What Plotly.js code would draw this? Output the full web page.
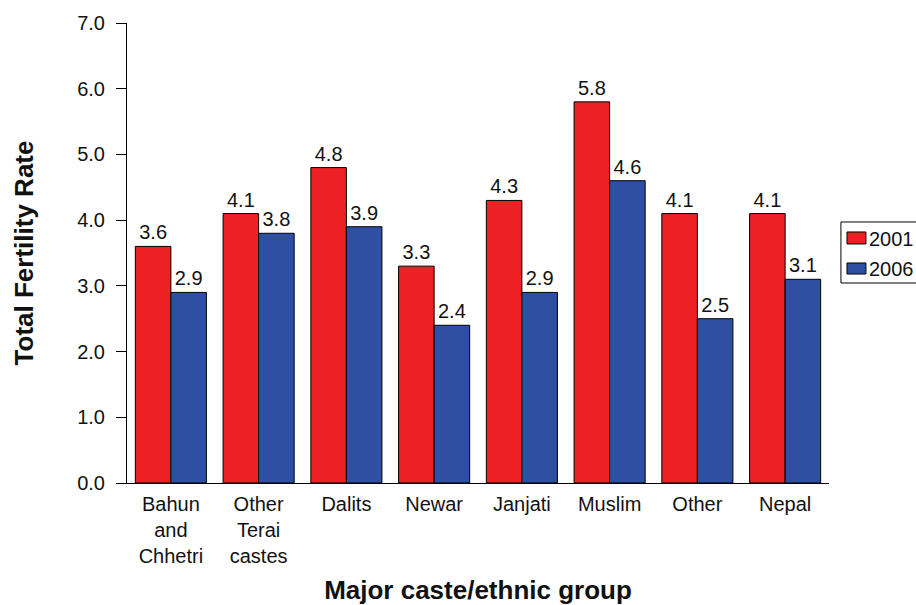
<!DOCTYPE html>
<html>
<head>
<meta charset="utf-8">
<script src="https://cdn.plot.ly/plotly-3.0.1.min.js"></script>
<style>
  html, body { margin: 0; padding: 0; background: #ffffff; }
  #chart { width: 916px; height: 605px; }
</style>
</head>
<body>
<div id="chart"></div>
<script>
// Total fertility rate by caste/ethnic group, Nepal 2001 vs 2006
const groups = [
  "Bahun<br>and<br>Chhetri",
  "Other<br>Terai<br>castes",
  "Dalits",
  "Newar",
  "Janjati",
  "Muslim",
  "Other",
  "Nepal"
];
const seriesNames = ["2001", "2006"];
const tfr2001 = [3.6, 4.1, 4.8, 3.3, 4.3, 5.8, 4.1, 4.1];
const tfr2006 = [2.9, 3.8, 3.9, 2.4, 2.9, 4.6, 2.5, 3.1];
const yTicks = [0, 1, 2, 3, 4, 5, 6, 7];

const FONT = "Liberation Sans, Arial, Helvetica, sans-serif";
const COLORS = ["#ED2124", "#2F4FA2"];

function barTrace(name, values, color) {
  return {
    type: "bar",
    name: name,
    x: groups,
    y: values,
    marker: { color: color, line: { color: "#000000", width: 1 } },
    text: values.map(v => v.toFixed(1)),
    textposition: "outside",
    textfont: { family: FONT, size: 20, color: "#111111" },
    cliponaxis: false,
    hoverinfo: "skip",
    showlegend: false
  };
}

const data = [
  barTrace(seriesNames[0], tfr2001, COLORS[0]),
  barTrace(seriesNames[1], tfr2006, COLORS[1])
];

// Legend box drawn at the right edge of the figure (paper coordinates)
const legendShapes = [
  { type: "rect", xref: "paper", yref: "paper",
    x0: 1.017, x1: 1.14, y0: 0.4348, y1: 0.5674,
    line: { color: "#000000", width: 1 }, fillcolor: "rgba(0,0,0,0)" }
];
const swatchY = [[0.5196, 0.5457], [0.4543, 0.4783]];
const labelY = [0.5304, 0.4652];
const legendNotes = [];
seriesNames.forEach((name, i) => {
  legendShapes.push({
    type: "rect", xref: "paper", yref: "paper",
    x0: 1.0256, x1: 1.0526, y0: swatchY[i][0], y1: swatchY[i][1],
    line: { color: "#000000", width: 1 }, fillcolor: COLORS[i]
  });
  legendNotes.push({
    xref: "paper", yref: "paper",
    x: 1.0540, y: labelY[i],
    xanchor: "left", yanchor: "middle",
    text: name, showarrow: false,
    font: { family: FONT, size: 20, color: "#111111" }
  });
});

const layout = {
  width: 916,
  height: 605,
  margin: { l: 127, r: 87, t: 23, b: 122, autoexpand: false },
  paper_bgcolor: "#ffffff",
  plot_bgcolor: "#ffffff",
  font: { family: FONT, size: 20, color: "#111111" },
  barmode: "group",
  bargap: 0.19,
  bargroupgap: 0,
  showlegend: false,
  shapes: legendShapes,
  annotations: legendNotes,
  xaxis: {
    type: "category",
    showline: true,
    linecolor: "#000000",
    linewidth: 1,
    ticks: "",
    showgrid: false,
    zeroline: false,
    automargin: false,
    ticklabelstandoff: 3,
    tickfont: { family: FONT, size: 20, color: "#111111" },
    title: {
      text: "<b>Major caste/ethnic group</b>",
      font: { family: FONT, size: 26, color: "#111111" },
      standoff: 22
    }
  },
  yaxis: {
    range: [0, 7],
    tickvals: yTicks,
    ticktext: yTicks.map(v => v.toFixed(1)),
    showline: true,
    linecolor: "#000000",
    linewidth: 1,
    ticks: "outside",
    ticklen: 10,
    tickcolor: "#000000",
    ticklabelstandoff: 7,
    showgrid: false,
    zeroline: false,
    automargin: false,
    tickfont: { family: FONT, size: 20, color: "#111111" },
    title: {
      text: "<b>Total Fertility Rate</b>",
      font: { family: FONT, size: 26, color: "#111111" },
      standoff: 36
    }
  }
};

Plotly.newPlot("chart", data, layout, { staticPlot: true, displayModeBar: false });
</script>
</body>
</html>
